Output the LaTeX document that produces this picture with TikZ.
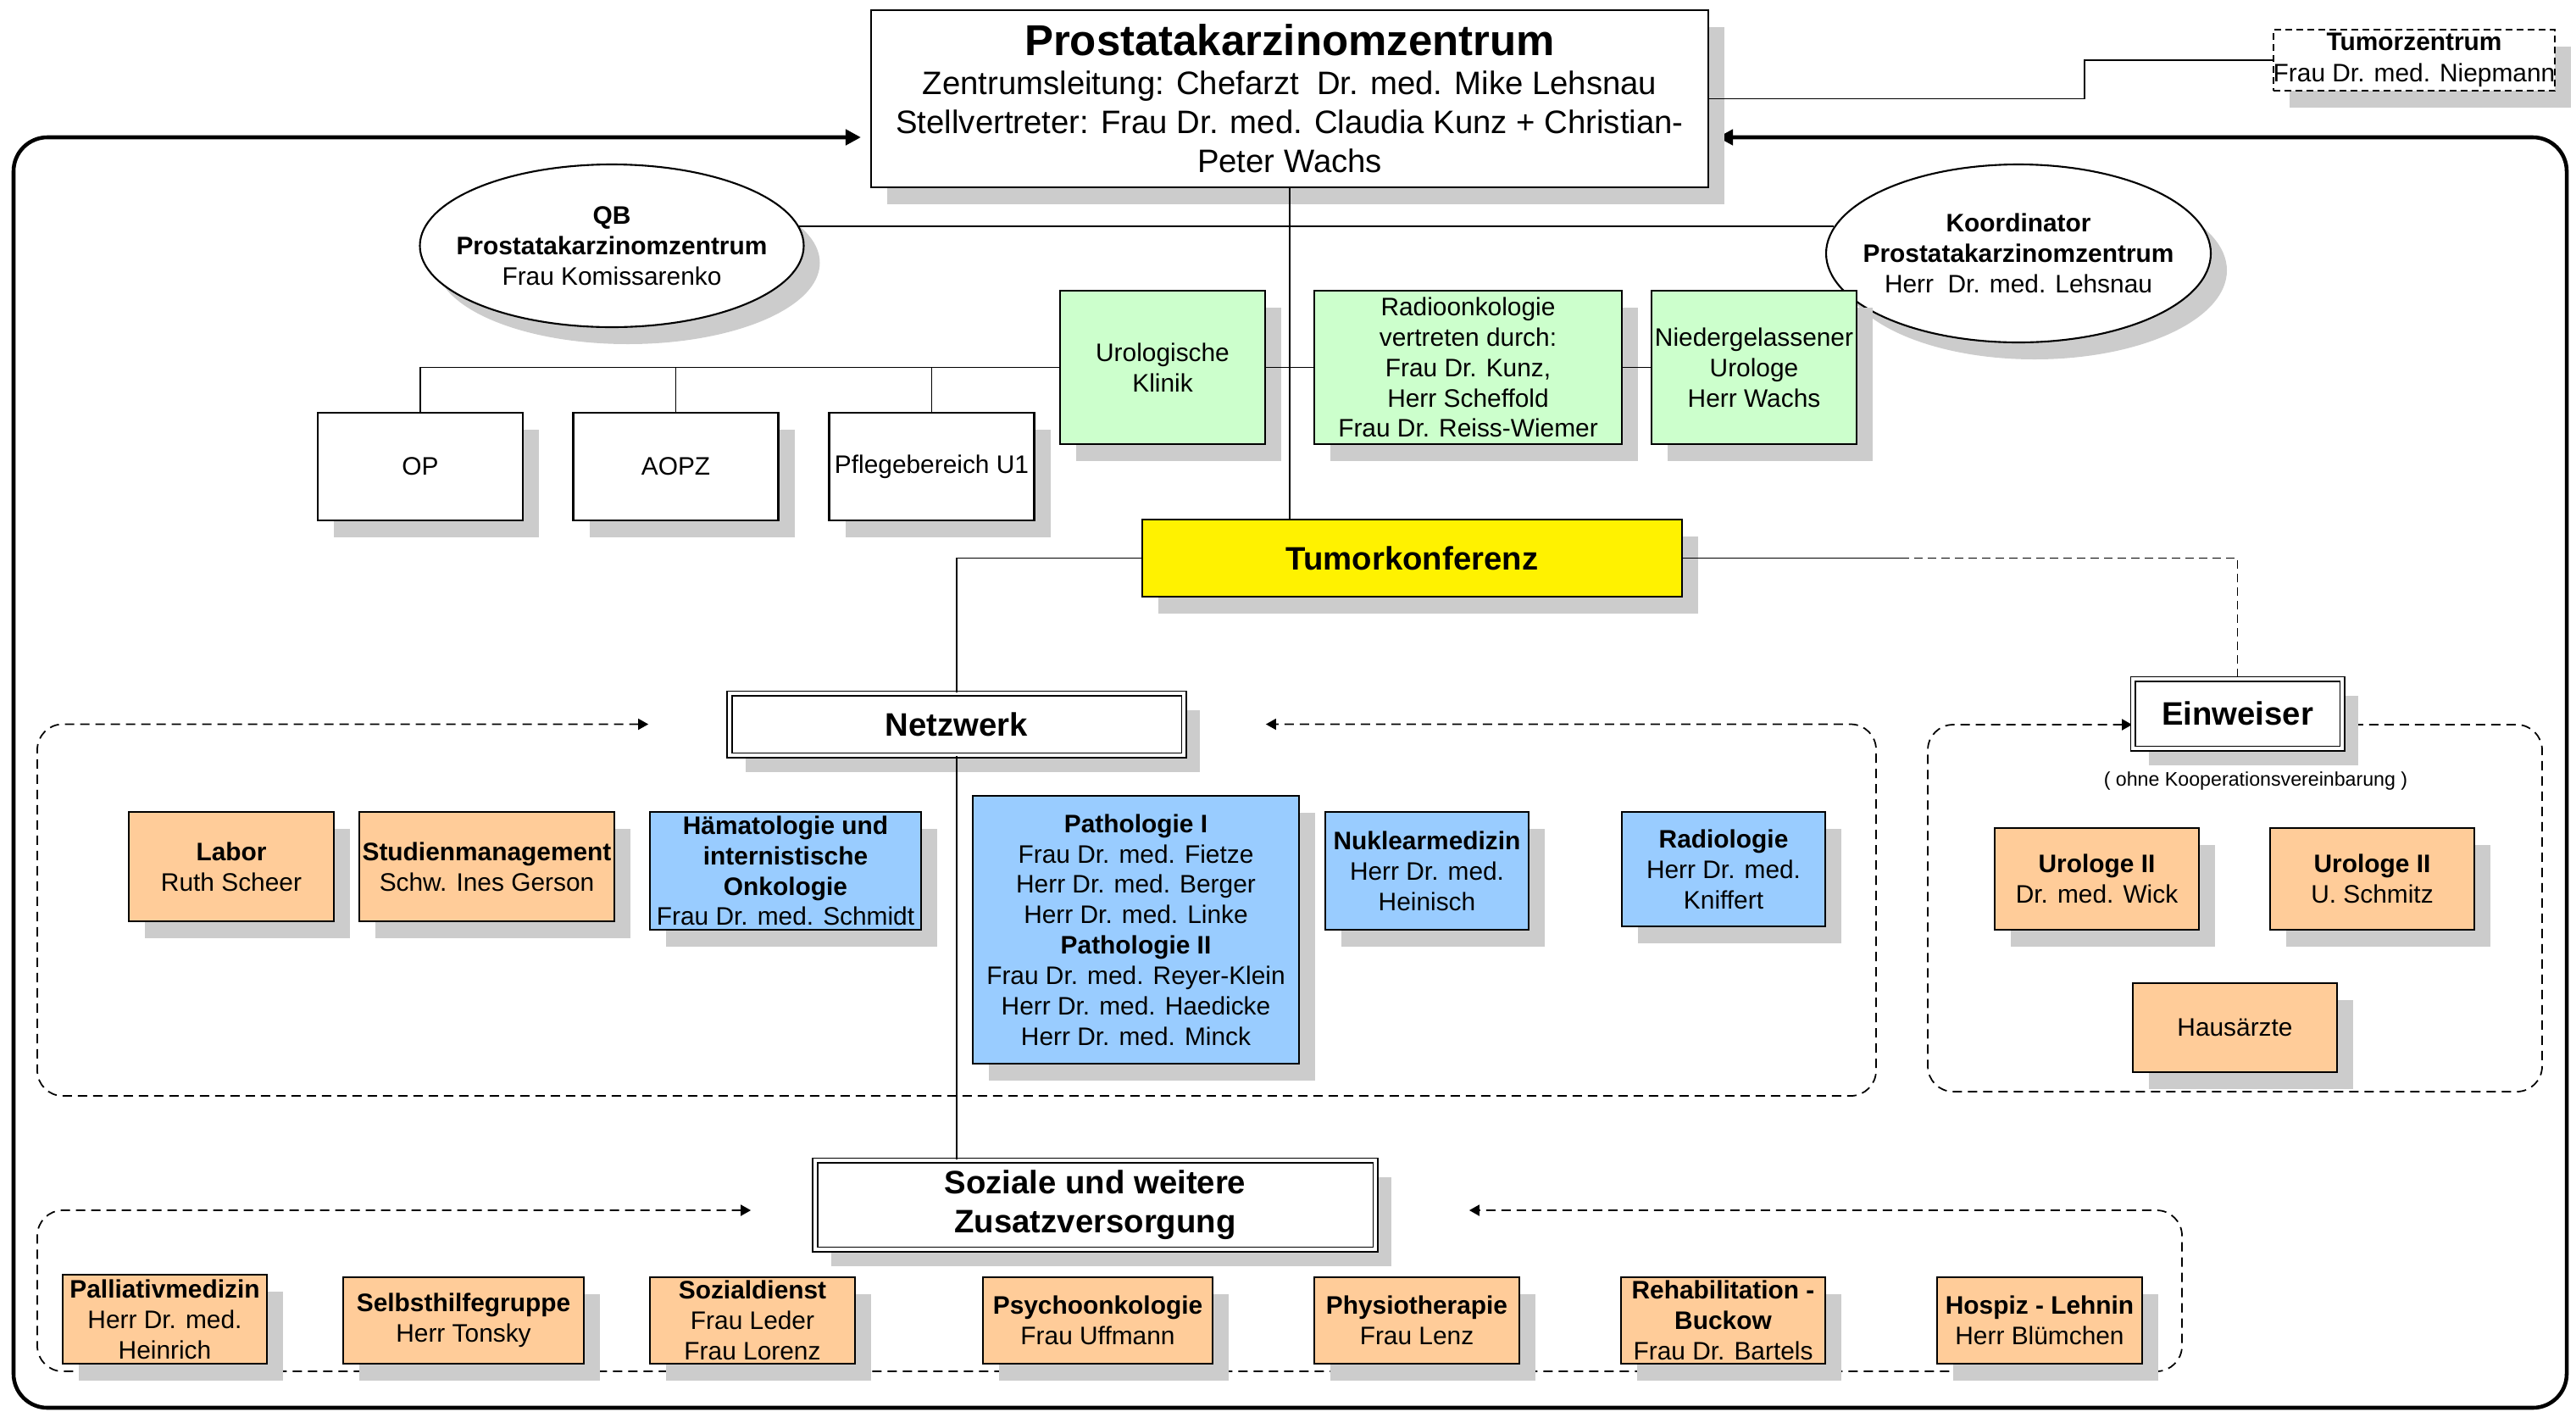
\documentclass[tikz,border=0pt]{standalone}
\usepackage{fontspec}
\setmainfont{Liberation Sans}
\usetikzlibrary{arrows.meta, shadows, shapes.geometric}
\pgfdeclarelayer{background}
\pgfsetlayers{background,main}

\definecolor{peach}{HTML}{FFCC99}
\definecolor{skyblue}{HTML}{99CCFF}
\definecolor{mint}{HTML}{CCFFCC}
\definecolor{shadowgray}{HTML}{CCCCCC}

\newcommand{\txtbody}{\fontsize{8.5}{10.2}\selectfont}
\newcommand{\txtmain}{\fontsize{10.9}{13.1}\selectfont}
\newcommand{\txttitle}{\fontsize{14.5}{17}\selectfont}
\newcommand{\txthead}{\fontsize{10.9}{13.2}\selectfont\bfseries}
\newcommand{\txtsmall}{\fontsize{6.6}{8}\selectfont}
\newcommand{\txttz}{\fontsize{8.5}{10.6}\selectfont}

\tikzset{
  boxshadow/.style={drop shadow={shadow xshift=0.19cm, shadow yshift=-0.2cm, fill=shadowgray, opacity=1}},
  sz/.style 2 args={minimum width=#1cm, minimum height=#2cm},
  orgbox/.style={draw, line width=0.6pt, fill=white, align=center, inner sep=0pt, boxshadow, font=\txtbody},
  partnerbox/.style={orgbox, fill=peach},
  fachbox/.style={orgbox, fill=skyblue},
  klinikbox/.style={orgbox, fill=mint},
  kopfbox/.style={orgbox, double, line width=0.5pt, double distance=1pt, font=\txthead},
  rundbox/.style={ellipse, draw, line width=0.6pt, fill=white, inner sep=0pt, boxshadow},
  rundtext/.style={align=center, font=\txtbody},
  linie/.style={line width=0.5pt},
  kurzstrich/.style={dash pattern=on 0.1cm off 0.06cm},
  bereich/.style={draw, line width=0.5pt, dash pattern=on 0.11cm off 0.07cm, rounded corners=0.3cm,
    {Triangle[length=1.2mm,width=1.3mm]}-{Triangle[length=1.2mm,width=1.3mm]}},
  rahmen/.style={draw, line width=1.3pt, rounded corners=0.4cm,
    {Triangle[length=1.8mm,width=1.8mm]}-{Triangle[length=1.8mm,width=1.8mm]}},
}

\begin{document}
\begin{tikzpicture}
\useasboundingbox (0,0) rectangle (30.4,-16.65);

\node[orgbox, sz={9.88}{2.09}, font=\txtmain] (main) at (15.22,-1.165) {{\txttitle\textbf{Prostatakarzinomzentrum}}\\Zentrumsleitung: Chefarzt\ \ Dr. med. Mike Lehsnau\\Stellvertreter: Frau Dr. med. Claudia Kunz + Christian-\\Peter Wachs};
\node[orgbox, dash pattern=on 0.08cm off 0.05cm, sz={3.32}{0.72}, font=\txttz] (tumz) at (28.49,-0.71) {\textbf{Tumorzentrum}\\Frau Dr. med. Niepmann};

\node[rundbox, sz={4.53}{1.92}, label={[rundtext]center:{\textbf{QB}\\\textbf{Prostatakarzinomzentrum}\\Frau Komissarenko}}] (qb) at (7.22,-2.90) {};
\node[rundbox, sz={4.54}{2.10}, label={[rundtext]center:{\textbf{Koordinator}\\\textbf{Prostatakarzinomzentrum}\\Herr\ \ Dr. med. Lehsnau}}] (koord) at (23.82,-2.99) {};

\node[klinikbox, sz={2.42}{1.81}] (uro) at (13.72,-4.335) {Urologische\\Klinik};
\node[klinikbox, sz={3.63}{1.81}] (radio) at (17.325,-4.335) {Radioonkologie\\vertreten durch:\\Frau Dr. Kunz,\\Herr Scheffold\\Frau Dr. Reiss-Wiemer};
\node[klinikbox, sz={2.42}{1.81}] (nieder) at (20.70,-4.335) {Niedergelassener\\Urologe\\Herr Wachs};

\node[orgbox, sz={2.42}{1.27}] (op) at (4.96,-5.505) {OP};
\node[orgbox, sz={2.42}{1.27}] (aopz) at (7.975,-5.505) {AOPZ};
\node[orgbox, sz={2.42}{1.27}] (pflege) at (10.995,-5.505) {Pflegebereich U1};

\node[orgbox, fill=yellow, sz={6.37}{0.91}, font=\txthead] (tumk) at (16.665,-6.585) {Tumorkonferenz};

\node[kopfbox, sz={5.36}{0.73}] (netz) at (11.29,-8.545) {Netzwerk};
\node[kopfbox, sz={2.47}{0.82}] (einw) at (26.405,-8.42) {Einweiser};
\node[font=\txtsmall] (ohne) at (26.62,-9.21) {( ohne Kooperationsvereinbarung )};

\node[partnerbox, sz={2.42}{1.29}] (labor) at (2.73,-10.225) {\textbf{Labor}\\Ruth Scheer};
\node[partnerbox, sz={3.01}{1.29}] (studien) at (5.745,-10.225) {\textbf{Studienmanagement}\\Schw. Ines Gerson};
\node[fachbox, sz={3.2}{1.39}] (haema) at (9.27,-10.275) {\textbf{Hämatologie und}\\\textbf{internistische}\\\textbf{Onkologie}\\Frau Dr. med. Schmidt};
\node[fachbox, sz={3.85}{3.16}] (patho) at (13.405,-10.97) {\textbf{Pathologie I}\\Frau Dr. med. Fietze\\Herr Dr. med. Berger\\Herr Dr. med. Linke\\\textbf{Pathologie II}\\Frau Dr. med. Reyer-Klein\\Herr Dr. med. Haedicke\\Herr Dr. med. Minck};
\node[fachbox, sz={2.40}{1.39}] (nukl) at (16.84,-10.275) {\textbf{Nuklearmedizin}\\Herr Dr. med.\\Heinisch};
\node[fachbox, sz={2.40}{1.35}] (radiol) at (20.34,-10.255) {\textbf{Radiologie}\\Herr Dr. med.\\Kniffert};

\node[partnerbox, sz={2.41}{1.2}] (wick) at (24.745,-10.37) {\textbf{Urologe II}\\Dr. med. Wick};
\node[partnerbox, sz={2.41}{1.2}] (schmitz) at (27.995,-10.37) {\textbf{Urologe II}\\U. Schmitz};
\node[partnerbox, sz={2.41}{1.05}] (haus) at (26.375,-12.125) {Hausärzte};

\node[kopfbox, sz={6.61}{1.05}] (soz) at (12.925,-14.215) {Soziale und weitere\\Zusatzversorgung};

\node[partnerbox, sz={2.41}{1.05}] (palli) at (1.945,-15.565) {\textbf{Palliativmedizin}\\Herr Dr. med.\\Heinrich};
\node[partnerbox, sz={2.84}{1.02}] (selbst) at (5.47,-15.58) {\textbf{Selbsthilfegruppe}\\Herr Tonsky};
\node[partnerbox, sz={2.42}{1.02}] (sozd) at (8.88,-15.58) {\textbf{Sozialdienst}\\Frau Leder\\Frau Lorenz};
\node[partnerbox, sz={2.71}{1.02}] (psych) at (12.955,-15.58) {\textbf{Psychoonkologie}\\Frau Uffmann};
\node[partnerbox, sz={2.42}{1.02}] (physio) at (16.72,-15.58) {\textbf{Physiotherapie}\\Frau Lenz};
\node[partnerbox, sz={2.41}{1.02}] (reha) at (20.335,-15.58) {\textbf{Rehabilitation -}\\\textbf{Buckow}\\Frau Dr. Bartels};
\node[partnerbox, sz={2.42}{1.02}] (hospiz) at (24.07,-15.58) {\textbf{Hospiz - Lehnin}\\Herr Blümchen};

\coordinate (oben) at (0,-1.62);
\coordinate (tkknick) at (22.43,-6.585);

\draw[linie] (main.east) -- ++(4.43,0) |- (tumz.west);
\draw[linie] (qb.6) -- (qb.6 -| koord.172);
\draw[linie] (main.south) -- (main.south |- tumk.north);
\draw[linie] (uro.east) -- (radio.west); \draw[linie] (radio.east) -- (nieder.west);
\draw[linie] (uro.west) -| (op.north); \draw[linie] (aopz.north) -- (aopz.north |- uro.west); \draw[linie] (pflege.north) -- (pflege.north |- uro.west);
\draw[linie] (tumk.west) -| (netz.north); \draw[linie] (netz.south) -- (netz.south |- soz.north);
\draw[linie] (tumk.east) -- (tkknick); \draw[linie, kurzstrich] (tkknick) -| (einw.north);

\begin{pgfonlayer}{background}
\draw[rahmen, shorten <=0.1cm, shorten >=0.11cm] (main.east |- oben) -| (30.29,-16.61) -| (0.16,-1.62) -- (main.west |- oben);
\draw[bereich] ([xshift=-0.95cm]netz.west) -| (0.44,-12.93) -| (22.14,-8.545) -- ([xshift=0.96cm]netz.east);
\draw[bereich] ([yshift=-0.13cm]einw.west) -| (22.75,-12.88) -| (30.00,-8.55) -- ([yshift=-0.13cm]einw.east);
\draw[bereich] ([xshift=-0.75cm,yshift=-0.065cm]soz.west) -| (0.44,-16.18) -| (25.75,-14.28) -- ([xshift=1.1cm,yshift=-0.065cm]soz.east);
\end{pgfonlayer}
\end{tikzpicture}
\end{document}
